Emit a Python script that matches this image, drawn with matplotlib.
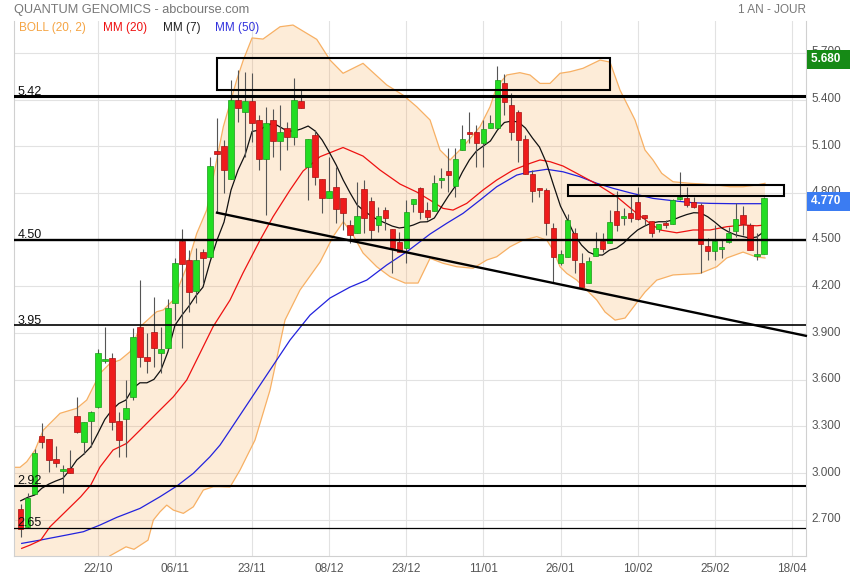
import numpy as np
import matplotlib
matplotlib.use("Agg")
import matplotlib.pyplot as plt
from matplotlib.patches import Rectangle
from matplotlib.transforms import ScaledTranslation

plt.rcParams['font.family'] = ['Liberation Sans', 'DejaVu Sans']

# daily candles (index 0 = first visible session)
opens = [2.77, 2.655, 2.865, 3.238, 3.217, 3.088, 3.016, 3.030, 3.366, 3.197,
         3.336, 3.424, 3.72, 3.737, 3.336, 3.345, 3.487, 3.940, 3.747, 3.908,
         3.769, 3.801, 4.091, 4.493, 4.369, 4.172, 4.422, 4.386, 5.071, 5.102,
         4.889, 5.397, 5.322, 5.389, 5.269, 5.016, 5.269, 5.136, 5.215, 5.157,
         5.393, 4.969, 5.172, 4.888, 4.765, 4.836, 4.765, 4.594, 4.540, 4.823,
         4.748, 4.594, 4.690, 4.566, 4.486, 4.444, 4.729, 4.830, 4.690, 4.686,
         4.881, 4.941, 4.844, 5.076, 5.193, 5.193, 5.119, 5.215, 5.215, 5.504,
         5.365, 5.322, 5.145, 4.922, 4.822, 4.819, 4.573, 4.348, 4.390, 4.540,
         4.348, 4.219, 4.395, 4.491, 4.480, 4.684, 4.637, 4.669, 4.740, 4.658,
         4.620, 4.568, 4.609, 4.598, 4.760, 4.765, 4.744, 4.722, 4.459, 4.429,
         4.440, 4.483, 4.557, 4.658, 4.594, 4.394, 4.406]
highs = [2.80, 2.87, 3.154, 3.323, 3.22, 3.174, 3.051, 3.148, 3.490, 3.326,
         3.40, 3.80, 3.94, 3.769, 3.394, 3.598, 3.930, 4.240, 3.898, 4.133,
         3.940, 4.116, 4.380, 4.566, 4.433, 4.444, 4.438, 5.033, 5.280, 5.140,
         5.526, 5.59, 5.579, 5.57, 5.301, 5.354, 5.337, 5.365, 5.258, 5.537,
         5.461, 5.145, 5.204, 4.888, 5.033, 4.969, 4.765, 4.626, 4.872, 4.883,
         4.776, 4.708, 4.711, 4.57, 4.551, 4.754, 4.76, 4.840, 4.744, 4.915,
         4.958, 5.087, 5.087, 5.236, 5.322, 5.236, 5.269, 5.301, 5.616, 5.564,
         5.440, 5.333, 5.172, 4.947, 4.830, 4.830, 4.609, 4.433, 4.665, 4.573,
         4.412, 4.39, 4.551, 4.540, 4.690, 4.812, 4.701, 4.780, 4.840, 4.658,
         4.62, 4.60, 4.626, 4.759, 4.936, 4.840, 4.776, 4.733, 4.508, 4.594,
         4.497, 4.583, 4.737, 4.716, 4.605, 4.540, 4.776]
lows = [2.59, 2.65, 2.865, 3.159, 3.008, 3.037, 2.873, 2.998, 3.255, 3.122,
        3.169, 3.42, 3.71, 3.276, 3.105, 3.105, 3.469, 3.683, 3.641, 3.683,
        3.641, 3.80, 3.983, 3.801, 4.037, 4.091, 4.219, 4.38, 4.673, 4.798,
        4.889, 5.258, 5.033, 5.129, 4.947, 4.658, 5.033, 4.947, 5.076, 5.108,
        5.344, 4.754, 4.851, 4.673, 4.765, 4.605, 4.562, 4.476, 4.540, 4.540,
        4.497, 4.551, 4.562, 4.283, 4.422, 4.348, 4.679, 4.630, 4.626, 4.686,
        4.830, 4.808, 4.776, 5.076, 5.119, 4.969, 4.969, 5.215, 5.215, 5.301,
        5.140, 5.001, 4.922, 4.744, 4.776, 4.530, 4.223, 4.337, 4.39, 4.283,
        4.197, 4.219, 4.395, 4.422, 4.48, 4.557, 4.594, 4.615, 4.626, 4.594,
        4.515, 4.551, 4.573, 4.598, 4.754, 4.711, 4.701, 4.287, 4.369, 4.369,
        4.380, 4.476, 4.519, 4.530, 4.433, 4.369, 4.406]
closes = [2.64, 2.837, 3.127, 3.197, 3.084, 3.062, 3.022, 2.998, 3.262, 3.326,
          3.394, 3.769, 3.72, 3.330, 3.212, 3.416, 3.876, 3.744, 3.722, 3.801,
          3.795, 4.058, 4.348, 4.341, 4.165, 4.369, 4.380, 4.973, 5.048, 4.947,
          5.397, 5.344, 5.389, 5.247, 5.016, 5.247, 5.136, 5.193, 5.157, 5.397,
          5.344, 5.145, 4.900, 4.765, 4.812, 4.695, 4.669, 4.530, 4.654, 4.637,
          4.562, 4.654, 4.637, 4.444, 4.422, 4.679, 4.759, 4.679, 4.647, 4.862,
          4.894, 4.915, 5.018, 5.146, 5.179, 5.119, 5.208, 5.251, 5.526, 5.386,
          5.190, 5.140, 4.922, 4.814, 4.818, 4.609, 4.390, 4.407, 4.626, 4.369,
          4.197, 4.364, 4.444, 4.438, 4.611, 4.594, 4.640, 4.637, 4.632, 4.637,
          4.540, 4.598, 4.594, 4.754, 4.765, 4.722, 4.711, 4.470, 4.429, 4.491,
          4.442, 4.544, 4.630, 4.600, 4.433, 4.400, 4.770]

# moving averages (x = session index)
mm7_x = list(range(107))
mm7_y = [2.822, 2.844, 2.859, 2.902, 2.929, 2.949, 2.966, 3.019, 3.084, 3.122,
         3.169, 3.255, 3.345, 3.405, 3.447, 3.469, 3.544, 3.580, 3.580, 3.602,
         3.662, 3.780, 3.950, 4.015, 4.073, 4.140, 4.195, 4.356, 4.497, 4.613,
         4.819, 4.947, 5.044, 5.195, 5.204, 5.230, 5.249, 5.224, 5.198, 5.198,
         5.211, 5.230, 5.198, 5.140, 5.063, 4.980, 4.883, 4.799, 4.722, 4.684,
         4.652, 4.626, 4.607, 4.587, 4.575, 4.581, 4.594, 4.613, 4.615, 4.639,
         4.710, 4.780, 4.844, 4.934, 5.012, 5.069, 5.102, 5.134, 5.204, 5.253,
         5.262, 5.256, 5.217, 5.153, 5.095, 4.992, 4.851, 4.715, 4.626, 4.530,
         4.465, 4.420, 4.401, 4.401, 4.433, 4.446, 4.478, 4.523, 4.562, 4.587,
         4.607, 4.615, 4.615, 4.626, 4.645, 4.661, 4.673, 4.671, 4.647, 4.613,
         4.575, 4.549, 4.530, 4.520, 4.510, 4.517, 4.551]

mm20_x = [0.14, 1.33, 2.85, 4.18, 6.18, 8.56, 9.99, 11.31, 13.17, 15.12,
          17.02, 19.40, 21.77, 23.68, 25.58, 27.43, 29.86, 31.71, 34.14, 35.99,
          38.42, 40.28, 42.70, 45.98, 48.83, 51.26, 54.11, 56.49, 58.39, 60.24,
          61.67, 63.62, 65.95, 67.90, 70.23, 72.65, 74.08, 75.50, 77.36, 79.32,
          82.17, 85.02, 87.87, 89.77, 91.20, 93.58, 95.91, 98.33, 100.71, 103.04,
          104.99, 106.17]
mm20_y = [2.516, 2.537, 2.569, 2.655, 2.743, 2.848, 2.923, 3.039, 3.148, 3.191,
          3.276, 3.384, 3.490, 3.598, 3.771, 3.940, 4.112, 4.286, 4.497, 4.647,
          4.819, 4.941, 5.033, 5.092, 5.037, 4.947, 4.857, 4.806, 4.754, 4.701,
          4.690, 4.733, 4.819, 4.883, 4.947, 4.990, 5.012, 5.001, 4.973, 4.926,
          4.857, 4.776, 4.669, 4.605, 4.562, 4.544, 4.562, 4.562, 4.583, 4.594,
          4.589, 4.594]

mm50_x = [0.14, 2.75, 6.56, 8.93, 11.31, 13.69, 17.02, 19.87, 22.25, 24.62,
          27.00, 28.43, 29.86, 32.71, 35.56, 38.42, 41.27, 44.12, 46.97, 49.36,
          52.21, 55.25, 58.39, 60.77, 63.10, 65.52, 67.90, 70.76, 72.65, 75.04,
          77.36, 79.79, 82.17, 84.49, 86.92, 90.20, 93.05, 95.91, 98.33, 101.61,
          106.17]
mm50_y = [2.548, 2.569, 2.602, 2.623, 2.666, 2.715, 2.773, 2.848, 2.916, 2.998,
          3.105, 3.180, 3.276, 3.469, 3.662, 3.855, 4.015, 4.125, 4.195, 4.240,
          4.337, 4.428, 4.536, 4.605, 4.669, 4.754, 4.840, 4.915, 4.936, 4.952,
          4.936, 4.904, 4.862, 4.830, 4.801, 4.765, 4.750, 4.737, 4.733, 4.731,
          4.731]

# Bollinger (20, 2) envelope
boll_up_x = [-0.96, -0.10, 0.86, 2.04, 3.22, 5.61, 7.99, 9.41, 10.84, 11.31,
             12.74, 14.15, 15.60, 17.02, 19.40, 20.34, 21.77, 23.68, 25.11, 26.53,
             28.90, 30.81, 31.75, 33.0, 34.56, 36.99, 38.84, 42.23, 44.12, 45.98,
             48.83, 52.21, 54.54, 56.49, 58.39, 59.81, 61.24, 63.10, 65.52, 66.95,
             67.90, 69.33, 71.20, 72.65, 74.08, 75.50, 76.93, 78.36, 80.21, 82.64,
             84.06, 85.49, 87.63, 89.05, 90.19, 91.44, 93.05, 95.47, 97.33, 99.29,
             101.18, 103.04, 104.99, 106.17]
boll_up_y = [3.037, 3.037, 3.073, 3.148, 3.276, 3.384, 3.416, 3.469, 3.598, 3.641,
             3.705, 3.726, 3.780, 3.940, 4.037, 4.048, 4.112, 4.326, 4.540, 4.690,
             5.226, 5.526, 5.654, 5.796, 5.789, 5.868, 5.879, 5.787, 5.654, 5.569,
             5.633, 5.494, 5.429, 5.354, 5.269, 5.076, 5.012, 5.097, 5.226, 5.354,
             5.483, 5.558, 5.573, 5.558, 5.504, 5.504, 5.569, 5.579, 5.601, 5.654,
             5.641, 5.461, 5.269, 5.076, 5.012, 4.926, 4.872, 4.862, 4.857, 4.851,
             4.840, 4.840, 4.851, 4.862]
boll_lo_x = [-0.96, 5.0, 10.0, 12.68, 15.02, 16.16, 18.16, 18.92, 19.87, 20.83,
             21.77, 23.20, 24.62, 26.05, 27.48, 28.43, 29.86, 31.28, 33.42, 35.56,
             37.70, 39.84, 42.70, 44.55, 46.02, 47.40, 48.83, 50.78, 52.68, 54.82,
             56.68, 58.39, 60.24, 62.20, 64.53, 66.48, 67.90, 69.80, 71.66, 73.61,
             75.04, 75.94, 76.93, 77.89, 79.32, 80.74, 82.17, 83.35, 84.78, 86.21,
             87.63, 89.05, 90.73, 93.05, 96.90, 99.29, 100.71, 103.04, 104.99, 106.17]
boll_lo_y = [2.00, 2.10, 2.30, 2.467, 2.526, 2.510, 2.569, 2.698, 2.751, 2.794,
             2.762, 2.741, 2.783, 2.891, 2.912, 2.912, 2.910, 3.019, 3.212, 3.533,
             3.983, 4.176, 4.356, 4.519, 4.615, 4.530, 4.414, 4.326, 4.262, 4.221,
             4.221, 4.380, 4.348, 4.326, 4.316, 4.369, 4.390, 4.454, 4.497, 4.519,
             4.497, 4.433, 4.326, 4.283, 4.240, 4.176, 4.112, 4.035, 3.983, 3.996,
             4.080, 4.163, 4.240, 4.273, 4.283, 4.326, 4.382, 4.420, 4.388, 4.382]

# drawn annotations
levels = [5.42, 4.50, 3.95, 2.92, 2.65]
level_labels = ['5.42', '4.50', '3.95', '2.92', '2.65']
level_lw = [2.2, 1.7, 1.2, 1.5, 0.9]
trend_x = [28, 112]
trend_y = [4.673, 3.882]
boxes = [(28, 5.46, 84.1, 5.668), (78, 4.78, 108.9, 4.854)]

date_pos = [11, 22, 33, 44, 55, 66, 77, 88, 99, 110]
date_labels = ['22/10', '06/11', '23/11', '08/12', '23/12', '11/01', '26/01',
               '10/02', '25/02', '18/04']
y_ticks = [2.7, 3.0, 3.3, 3.6, 3.9, 4.2, 4.5, 4.8, 5.1, 5.4, 5.7]
last_high = 5.680
last_close = 4.770

W, H = 855, 579
fig = plt.figure(figsize=(W / 100, H / 100), dpi=100)
ax = fig.add_axes([14 / W, 1 - 556 / H, (806 - 14) / W, (556 - 21) / H])
ax.set_xlim(-0.96, 112.02)
ax.set_ylim(2.467, 5.905)

ax.grid(True, color='#e2e2e2', lw=0.8, zorder=0)
ax.set_axisbelow(True)

# bollinger band
band_x = np.r_[boll_up_x, boll_lo_x[::-1]]
band_y = np.r_[boll_up_y, boll_lo_y[::-1]]
ax.fill(band_x, band_y, color='#f9a03f', alpha=0.2, lw=0, zorder=1)
ax.plot(boll_up_x, boll_up_y, color='#f7b064', lw=0.9, zorder=2)
ax.plot(boll_lo_x, boll_lo_y, color='#f7b064', lw=0.9, zorder=2)

ax.plot(mm50_x, mm50_y, color='#2222dd', lw=0.9, zorder=3)
ax.plot(mm20_x, mm20_y, color='#ee1111', lw=0.9, zorder=3)
ax.plot(mm7_x, mm7_y, color='#111111', lw=0.9, zorder=3)

# candles
o = np.array(opens)
c = np.array(closes)
x = np.arange(len(o))
up = c >= o
ax.vlines(x, lows, highs, color='#555555', lw=0.8, zorder=4)
bottoms = np.minimum(o, c)
heights = np.maximum(np.abs(c - o), 0.012)
ax.bar(x[up], heights[up], bottom=bottoms[up], width=0.78, color='#22dd22',
       edgecolor='#189a18', lw=0.5, zorder=5)
ax.bar(x[~up], heights[~up], bottom=bottoms[~up], width=0.78, color='#ee1c1c',
       edgecolor='#a81010', lw=0.5, zorder=5)

# support / resistance levels
for lv, lab, lw in zip(levels, level_labels, level_lw):
    ax.axhline(lv, color='black', lw=lw, zorder=6)
    ax.text(-0.45, lv + 0.01, lab, fontsize=9, color='#111111',
            va='baseline', ha='left', zorder=7)

ax.plot(trend_x, trend_y, color='black', lw=1.7, zorder=6, clip_on=False)
for x0, y0, x1, y1 in boxes:
    ax.add_patch(Rectangle((x0, y0), x1 - x0, y1 - y0, fill=False,
                           edgecolor='black', lw=1.5, zorder=6))

# axes styling
ax.set_xticks(date_pos)
ax.set_xticklabels(date_labels)
ax.yaxis.tick_right()
ax.set_yticks(y_ticks)
ax.set_yticklabels(['%.3f' % v for v in y_ticks])
ax.tick_params(axis='both', length=0, labelsize=8.5, labelcolor='#555555')
ax.tick_params(axis='x', pad=5)
ax.tick_params(axis='y', pad=4)
lift = ScaledTranslation(0, 2 / 100, fig.dpi_scale_trans)
for lab in ax.get_yticklabels():
    lab.set_transform(lab.get_transform() + lift)
ax.spines['top'].set_visible(False)
for side in ['left', 'right', 'bottom']:
    ax.spines[side].set_color('#d0d0d0')
    ax.spines[side].set_linewidth(0.8)

# last price / high tags
for val, col in [(last_high, '#168a16'), (last_close, '#3b7cf2')]:
    ax.annotate('%.3f  ' % val, xy=(1.0063, val),
                xycoords=('axes fraction', 'data'), xytext=(0, -2.5),
                textcoords='offset points', va='center', ha='left',
                fontsize=8.5, fontweight='bold', color='white', zorder=10,
                annotation_clip=False,
                bbox=dict(boxstyle='square,pad=0.3', fc=col, ec='none'))

# header and legend
fig.text(14 / W, 1 - 10 / H, 'QUANTUM GENOMICS - abcbourse.com', fontsize=9.2,
         color='#777777', va='center', ha='left')
fig.text(806 / W, 1 - 10 / H, '1 AN - JOUR', fontsize=8.5, color='#777777',
         va='center', ha='right')
for lab, px, col in [('BOLL (20, 2)', 19, '#f5a443'), ('MM (20)', 103, '#ee1111'),
                     ('MM (7)', 163, '#222222'), ('MM (50)', 215, '#3333dd')]:
    fig.text(px / W, 1 - 28 / H, lab, fontsize=8.5, color=col, va='center', ha='left')

fig.savefig('out.png', dpi=100)
